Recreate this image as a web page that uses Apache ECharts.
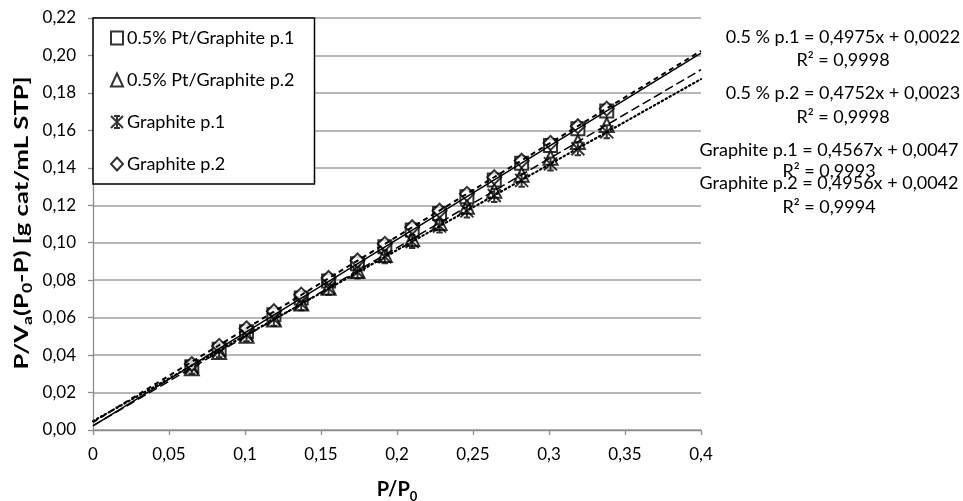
<!DOCTYPE html>
<html>
<head>
<meta charset="utf-8">
<script src="https://cdn.jsdelivr.net/npm/echarts@6/dist/echarts.min.js"></script>
<style>
  html, body { margin: 0; padding: 0; background: #fff; }
  #chart { width: 963px; height: 501px; }
</style>
</head>
<body>
<div id="chart"></div>
<script>
// Relative pressure P/P0 (shared by all four runs)
const pp0 = [0.065, 0.083, 0.101, 0.119, 0.137, 0.155, 0.174, 0.192, 0.210, 0.228, 0.246, 0.264, 0.282, 0.301, 0.319, 0.338];

// BET transform P/Va(P0-P) for each run
const ptP1 = [0.0338, 0.0431, 0.0524, 0.0616, 0.0705, 0.0795, 0.0888, 0.0978, 0.1068, 0.1156, 0.1246, 0.1335, 0.1424, 0.1519, 0.1608, 0.1703];
const ptP2 = [0.0330, 0.0416, 0.0503, 0.0590, 0.0675, 0.0760, 0.0849, 0.0935, 0.1020, 0.1106, 0.1192, 0.1277, 0.1363, 0.1454, 0.1538, 0.1629];
const grP1 = [0.0335, 0.0423, 0.0508, 0.0592, 0.0674, 0.0757, 0.0844, 0.0925, 0.1006, 0.1089, 0.1170, 0.1252, 0.1333, 0.1421, 0.1502, 0.1592];
const grP2 = [0.0352, 0.0449, 0.0543, 0.0634, 0.0723, 0.0812, 0.0905, 0.0994, 0.1083, 0.1171, 0.1261, 0.1350, 0.1438, 0.1533, 0.1622, 0.1716];

const seriesNames = ['0.5% Pt/Graphite p.1', '0.5% Pt/Graphite p.2', 'Graphite p.1', 'Graphite p.2'];

// Linear fits as printed beside the chart
const fitLabels = ['0.5 % p.1', '0.5 % p.2', 'Graphite p.1', 'Graphite p.2'];
const fitSlopes = [0.4975, 0.4752, 0.4567, 0.4956];
const fitIntercepts = [0.0022, 0.0023, 0.0047, 0.0042];
const fitR2 = [0.9998, 0.9998, 0.9993, 0.9994];

const xTicks = { min: 0, max: 0.4, interval: 0.05 };
const yTicks = { min: 0, max: 0.22, interval: 0.02 };

const FONT = 'Lato';
const comma = v => String(v).replace('.', ',');
const fmt4 = v => v.toFixed(4).replace('.', ',');

// Star marker: X with a vertical stroke and short caps
const starPath = 'path://M0,0L10,10M10,0L0,10M5,0L5,10M2.5,0L7.5,0M2.5,10L7.5,10';
const symbols = ['emptyRect', 'emptyTriangle', starPath, 'emptyDiamond'];
const symbolSizes = [13, 14, 13, 14];
const lineTypes = ['solid', [9, 4], [1.5, 3], [5, 4]];
const lineWidths = [1.5, 1.5, 2.2, 2];
const lineCaps = ['butt', 'butt', 'round', 'butt'];
const values = [ptP1, ptP2, grP1, grP2];

const scatterSeries = values.map((vals, i) => ({
  name: seriesNames[i],
  type: 'scatter',
  symbol: symbols[i],
  symbolSize: symbolSizes[i],
  itemStyle: { color: '#000', borderColor: '#000', borderWidth: 2 },
  data: pp0.map((x, k) => [x, vals[k]]),
  z: 3
}));

const fitSeries = fitSlopes.map((m, i) => ({
  name: 'fit ' + fitLabels[i],
  type: 'line',
  showSymbol: false,
  symbol: 'none',
  silent: true,
  lineStyle: { color: '#000', width: lineWidths[i], type: lineTypes[i], cap: lineCaps[i] },
  data: [[xTicks.min, fitIntercepts[i]], [xTicks.max, m * xTicks.max + fitIntercepts[i]]],
  z: 4
}));

// Equation blocks beside the plot
const eqPos = [
  { cx: 843, y1: 37, y2: 60 },
  { cx: 843, y1: 93, y2: 117 },
  { cx: 829, y1: 150, y2: 171 },
  { cx: 829, y1: 183, y2: 207 }
];
const eqFont = { fontFamily: FONT, fontSize: 18, fill: '#000', align: 'center', verticalAlign: 'middle',
  textAlign: 'center', textVerticalAlign: 'middle' };
const graphics = [];
fitLabels.forEach((lab, i) => {
  const p = eqPos[i];
  graphics.push({
    type: 'text', x: p.cx, y: p.y1,
    style: Object.assign({ text: lab + ' = ' + fmt4(fitSlopes[i]) + 'x + ' + fmt4(fitIntercepts[i]) }, eqFont)
  });
  graphics.push({
    type: 'text', x: p.cx, y: p.y2,
    style: Object.assign({ text: 'R² = ' + fmt4(fitR2[i]) }, eqFont)
  });
});

// Vertical axis title, drawn tall and narrow
graphics.push({
  type: 'text',
  x: 22, y: 223,
  rotation: Math.PI / 2,
  scaleX: 1.35, scaleY: 1,
  style: {
    text: '{b|P/V}{s|a}{b|(P}{s|0}{b|-P) [g cat/mL STP]}',
    align: 'center', verticalAlign: 'middle',
    textAlign: 'center', textVerticalAlign: 'middle',
    rich: {
      b: { fontFamily: FONT, fontSize: 19, fontWeight: 'bold', fill: '#000', color: '#000', lineHeight: 24 },
      s: { fontFamily: FONT, fontSize: 13, fontWeight: 'bold', fill: '#000', color: '#000', lineHeight: 13, verticalAlign: 'bottom' }
    }
  }
});

const chart = echarts.init(document.getElementById('chart'), null, { renderer: 'canvas' });
chart.setOption({
  animation: false,
  backgroundColor: '#fff',
  grid: { left: 93, right: 262, top: 18, bottom: 71, containLabel: false, outerBoundsMode: 'none' },
  legend: {
    data: seriesNames,
    orient: 'vertical',
    left: 93, top: 18,
    backgroundColor: '#fff',
    borderColor: '#000', borderWidth: 1.5,
    padding: [11, 20, 11, 17],
    itemWidth: 12, itemHeight: 13, itemGap: 24,
    textStyle: { fontFamily: FONT, fontSize: 18, color: '#000', lineHeight: 14, padding: [0, 0, 0, -1] },
    z: 10
  },
  xAxis: {
    type: 'value', min: xTicks.min, max: xTicks.max, interval: xTicks.interval,
    axisLine: { show: true, onZero: false, lineStyle: { color: '#8c8c8c', width: 1.3 } },
    axisTick: { show: true, inside: false, length: 5, lineStyle: { color: '#8c8c8c', width: 1.3 } },
    splitLine: { show: false },
    axisLabel: { fontFamily: FONT, fontSize: 17, color: '#000', margin: 16, formatter: v => comma(v) },
    name: '{b|P/P}{s|0}',
    nameLocation: 'middle', nameGap: 47,
    nameTextStyle: {
      rich: {
        b: { fontFamily: FONT, fontSize: 20, fontWeight: 'bold', color: '#000', lineHeight: 26 },
        s: { fontFamily: FONT, fontSize: 13, fontWeight: 'bold', color: '#000', lineHeight: 13, verticalAlign: 'bottom' }
      }
    }
  },
  yAxis: {
    type: 'value', min: yTicks.min, max: yTicks.max, interval: yTicks.interval,
    axisLine: { show: true, lineStyle: { color: '#8c8c8c', width: 1.3 } },
    axisTick: { show: true, inside: false, length: 5, lineStyle: { color: '#8c8c8c', width: 1.3 } },
    splitLine: { show: true, lineStyle: { color: '#a0a0a0', width: 1.5 } },
    axisLabel: { fontFamily: FONT, fontSize: 17, color: '#000', margin: 17, formatter: v => v.toFixed(2).replace('.', ',') }
  },
  graphic: graphics,
  series: scatterSeries.concat(fitSeries)
});
</script>
</body>
</html>
